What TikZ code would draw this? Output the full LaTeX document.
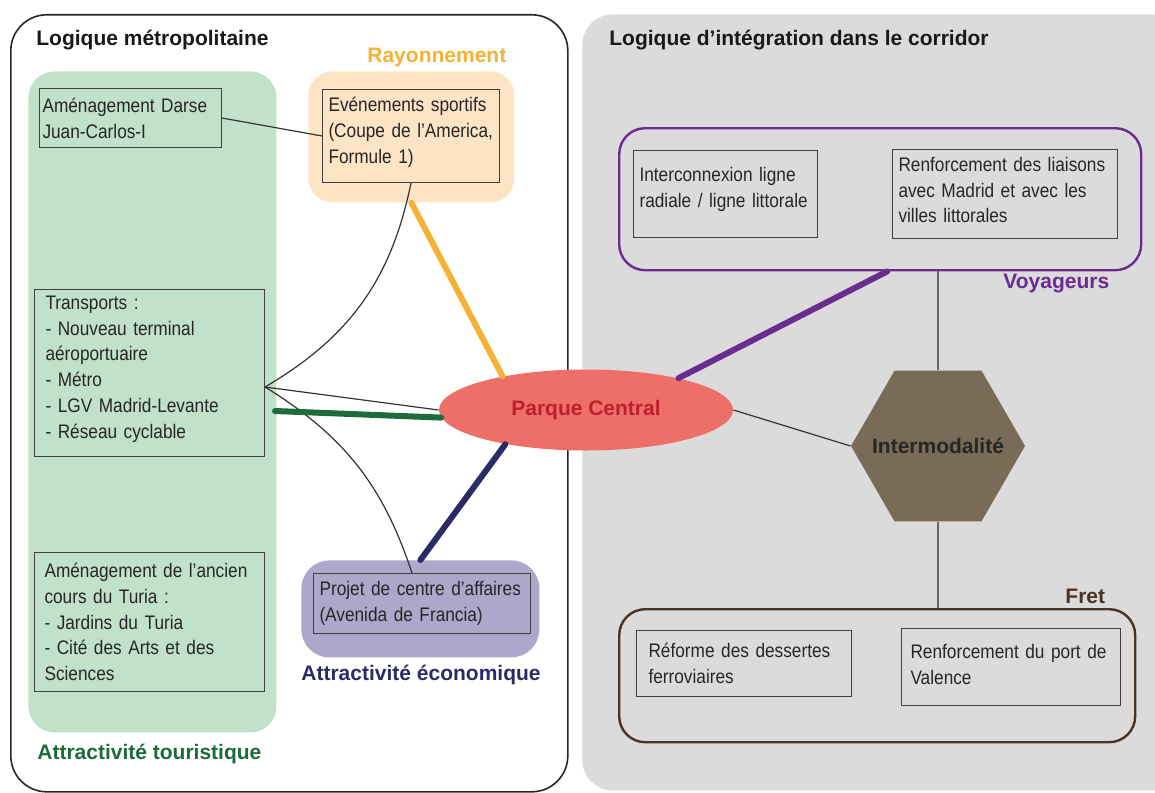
\documentclass[tikz,border=0pt]{standalone}
\usepackage{fontspec}
\setmainfont{Liberation Sans}
\newfontfamily\narrowfont[FakeStretch=0.88]{Liberation Sans}
\usepackage{tikz}
\usetikzlibrary{positioning,shapes.geometric}

\definecolor{panelgray}{HTML}{DCDBDB}
\definecolor{tourfill}{HTML}{C1E1C9}
\definecolor{tourdk}{HTML}{1D6B3A}
\definecolor{rayonfill}{HTML}{FDE4C4}
\definecolor{rayondk}{HTML}{F5B234}
\definecolor{econfill}{HTML}{AEA7CA}
\definecolor{econdk}{HTML}{2C2A66}
\definecolor{voyagedk}{HTML}{6B2C91}
\definecolor{fretdk}{HTML}{4A3323}
\definecolor{parquefill}{HTML}{EE6F6A}
\definecolor{parquedk}{HTML}{BE1E2D}
\definecolor{intermodfill}{HTML}{7A6A58}

\newcommand{\padbot}[1]{\rule[-#1]{0pt}{#1}}

\begin{document}
\begin{tikzpicture}[
  x=0.5pt, y=-0.5pt,
  panel/.style={rectangle, rounded corners=13pt, anchor=north west, inner sep=0pt},
  item/.style={rectangle, draw=black!75, line width=0.5pt, anchor=north west,
               inner xsep=3pt, inner ysep=0pt, align=left,
               font=\narrowfont\fontsize{9.8}{12.9}\selectfont, text=black!85},
  title/.style={anchor=base west, inner sep=0pt, text=black!90,
                font=\bfseries\fontsize{10.5}{12}\selectfont},
  link/.style={line width=0.6pt, black!80},
  vlink/.style={line width=0.6pt, black!60},
  bar/.style={line width=3pt, line cap=round}
]
  \clip (0,0) rectangle (1155,792);

  % fonds
  \node[panel, fill=panelgray, rounded corners=15pt, minimum width=300pt, minimum height=388pt] (corridor) at (582,14) {};
  \node[panel, draw=black!85, line width=0.8pt, rounded corners=18pt, minimum width=278.5pt, minimum height=388.5pt] (metro) at (10,14) {};
  \node[panel, fill=tourfill, minimum width=124pt, minimum height=330.5pt] (tourisme) at (28,71) {};
  \node[panel, fill=rayonfill, rounded corners=12pt, minimum width=103pt, minimum height=65.5pt] (rayonnement) at (308,71) {};
  \node[panel, fill=econfill, rounded corners=14pt, minimum width=119pt, minimum height=48.5pt] (affaires) at (301,560) {};
  \node[panel, draw=voyagedk, line width=1.2pt, minimum width=261pt, minimum height=71pt] (voyageurs) at (618,127) {};
  \node[panel, draw=fretdk, line width=1.2pt, minimum width=258pt, minimum height=66.5pt] (fret) at (618,608) {};

  \node[title] (tmetro) at (36,46) {Logique métropolitaine};
  \node[title, text=rayondk] (trayon) at (367,63) {Rayonnement};
  \node[title] (tcorridor) at (609,46) {Logique d’intégration dans le corridor};
  \node[title, text=voyagedk] (tvoyage) at (1003,288) {Voyageurs};
  \node[title, text=fretdk] (tfret) at (1065,603) {Fret};
  \node[title, text=econdk] (tecon) at (301,680) {Attractivité économique};
  \node[title, text=tourdk] (ttour) at (37,759) {Attractivité touristique};

  \node[item, inner xsep=1.5pt, text width=88pt, minimum height=29.5pt] (darse) at (39,88)
    {Aménagement Darse\\Juan-Carlos-I};
  \node[item, text width=82.5pt, minimum height=46.5pt] (evenements) at (322,89)
    {Evénements sportifs\\(Coupe de l’America,\\Formule 1)\padbot{6pt}};
  \node[item, inner xsep=5.5pt, text width=104pt, minimum height=83.5pt] (transports) at (34,289)
    {Transports :\\- Nouveau terminal\\aéroportuaire\\- Métro\\- LGV Madrid-Levante\\- Réseau cyclable\padbot{6pt}};
  \node[item, inner xsep=5pt, text width=105pt, minimum height=69.5pt] (turia) at (34,552)
    {Aménagement de l’ancien\\cours du Turia :\\- Jardins du Turia\\- Cité des Arts et des\\Sciences};
  \node[item, text width=102.5pt, minimum height=30pt] (projet) at (313,573)
    {Projet de centre d’affaires\\(Avenida de Francia)};
  \node[item, text width=86pt, minimum height=43.5pt] (interco) at (633,150)
    {Interconnexion ligne\\radiale / ligne littorale\padbot{7pt}};
  \node[item, text width=106.5pt, minimum height=44.5pt] (liaisons) at (892,149)
    {Renforcement des liaisons\\avec Madrid et avec les\\villes littorales\padbot{4pt}};
  \node[item, inner xsep=6pt, text width=95.5pt, minimum height=33pt] (reforme) at (636,630)
    {Réforme des dessertes\\ferroviaires};
  \node[item, inner xsep=4.5pt, text width=100.5pt, minimum height=38.5pt] (port) at (901,628)
    {Renforcement du port de\\Valence\padbot{3pt}};

  \node[ellipse, fill=parquefill, minimum width=147pt, minimum height=40.5pt, inner sep=0pt,
        font=\bfseries\fontsize{10.5}{12}\selectfont, text=parquedk] (parque) at (586,410) {Parque Central};
  \node[regular polygon, regular polygon sides=6, minimum size=87pt, inner sep=0pt, fill=intermodfill,
        label={[font=\bfseries\fontsize{10.5}{12}\selectfont, text=black!85]center:Intermodalité}] (hex) at (938,446) {};

  \coordinate (hub) at ([yshift=-7pt]transports.east);
  \draw[link] (darse.east) -- (evenements.west);
  \draw[link] (hub) to[bend right=24] (evenements.south);
  \draw[link] (hub) -- (parque.west);
  \draw[link] (hub) to[bend left=20] ([xshift=-5pt]projet.north);
  \draw[bar, tourdk] ([xshift=5pt,yshift=-19pt]transports.east) -- (parque.183);
  \draw[bar, rayondk] (rayonnement.south) -- (parque.158);
  \draw[bar, econdk] (affaires.north) -- (parque.203);
  \draw[bar, voyagedk] (parque.19) -- ([xshift=3.5pt]voyageurs.south);
  \draw[link] (parque.east) -- (hex.west);
  \draw[vlink] (hex.north) -- (hex.north |- voyageurs.south);
  \draw[vlink] (hex.south) -- (hex.south |- fret.north);
\end{tikzpicture}
\end{document}
